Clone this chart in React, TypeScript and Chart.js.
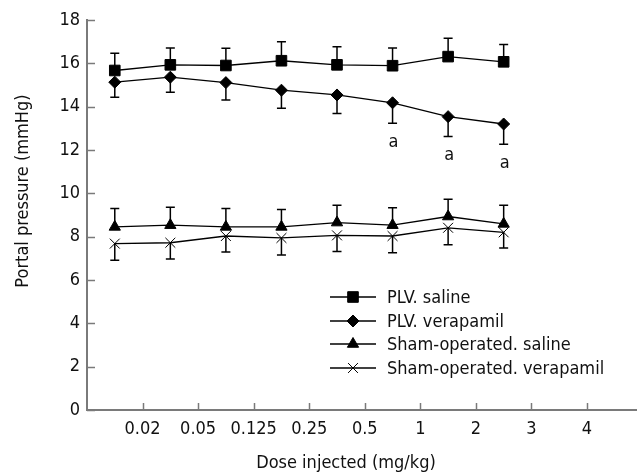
import React, { useEffect, useRef } from 'react';
import { Chart, registerables } from 'chart.js';
import { drawPoint } from 'chart.js/helpers';

Chart.register(...registerables);

// ---- data ----
const doseLabels = ['0.02', '0.05', '0.125', '0.25', '0.5', '1', '2', '3', '4'];
const seriesNames = ['PLV. saline', 'PLV. verapamil', 'Sham-operated. saline', 'Sham-operated. verapamil'];
const plvSaline = [15.67, 15.93, 15.9, 16.12, 15.93, 15.89, 16.31, 16.07];
const plvSalineErr = [0.8, 0.78, 0.8, 0.88, 0.83, 0.82, 0.85, 0.8];
const plvVerapamil = [15.13, 15.36, 15.11, 14.76, 14.54, 14.18, 13.54, 13.2];
const plvVerapamilErr = [0.7, 0.7, 0.8, 0.83, 0.86, 0.95, 0.92, 0.93];
const shamSaline = [8.45, 8.53, 8.45, 8.45, 8.65, 8.53, 8.93, 8.59];
const shamSalineErr = [0.85, 0.83, 0.85, 0.8, 0.8, 0.8, 0.8, 0.86];
const shamVerapamil = [7.68, 7.72, 8.03, 7.94, 8.06, 8.03, 8.41, 8.2];
const shamVerapamilErr = [0.77, 0.75, 0.74, 0.79, 0.74, 0.77, 0.78, 0.72];
const sigMarks = ['', '', '', '', '', 'a', 'a', 'a'];
const yTickValues = [0, 2, 4, 6, 8, 10, 12, 14, 16, 18];
const yTitle = 'Portal pressure (mmHg)';
const xTitle = 'Dose injected (mg/kg)';

const FONT = '"DejaVu Sans Condensed", "DejaVu Sans", sans-serif';
const FSIZE = 18;
const TEXT = '#111';
const AXIS = '#7a7a7a';

const seriesValues = [plvSaline, plvVerapamil, shamSaline, shamVerapamil];
const seriesErrs = [plvSalineErr, plvVerapamilErr, shamSalineErr, shamVerapamilErr];
const errDir = [1, -1, 1, -1];
const styles = [
  { pointStyle: 'rect', radius: 7.5 },
  { pointStyle: 'rectRot', radius: 6 },
  { pointStyle: 'triangle', radius: 6.5 },
  { pointStyle: 'crossRot', radius: 7 },
];

const decor = {
  id: 'decor',
  afterLayout(chart: any) {
    // let the x axis run to the right edge of the canvas, as in the original
    const x = chart.scales.x;
    const right = chart.width;
    chart.chartArea.right = right;
    chart.chartArea.width = right - chart.chartArea.left;
    x.right = right;
    x.width = right - x.left;
    x.configure();
  },
  beforeDatasetsDraw(chart: any) {
    const { ctx, scales } = chart;
    const xs = scales.x, ys = scales.y;
    ctx.save();
    ctx.strokeStyle = '#000';
    ctx.lineWidth = 1.5;
    seriesValues.forEach((vals, i) => {
      vals.forEach((v, j) => {
        const x = xs.getPixelForValue(j + 0.5);
        const y0 = ys.getPixelForValue(v);
        const y1 = ys.getPixelForValue(v + errDir[i] * seriesErrs[i][j]);
        ctx.beginPath();
        ctx.moveTo(x, y0);
        ctx.lineTo(x, y1);
        ctx.moveTo(x - 4.5, y1);
        ctx.lineTo(x + 4.5, y1);
        ctx.stroke();
      });
    });
    ctx.restore();
  },
  afterDraw(chart: any) {
    const { ctx, scales, chartArea } = chart;
    const xs = scales.x, ys = scales.y;
    ctx.save();
    // inward tick marks
    ctx.strokeStyle = AXIS;
    ctx.lineWidth = 1.5;
    yTickValues.forEach((t) => {
      const y = Math.round(ys.getPixelForValue(t)) + 0.5;
      ctx.beginPath();
      ctx.moveTo(chartArea.left, y);
      ctx.lineTo(chartArea.left + 8, y);
      ctx.stroke();
    });
    doseLabels.forEach((_, i) => {
      const x = Math.round(xs.getPixelForValue(i + 1)) + 0.5;
      ctx.beginPath();
      ctx.moveTo(x, chartArea.bottom);
      ctx.lineTo(x, chartArea.bottom - 7);
      ctx.stroke();
    });
    // significance marks
    ctx.fillStyle = TEXT;
    ctx.font = FSIZE + 'px ' + FONT;
    ctx.textAlign = 'center';
    ctx.textBaseline = 'middle';
    sigMarks.forEach((m, j) => {
      if (!m) return;
      const x = xs.getPixelForValue(j + 0.5);
      const y = ys.getPixelForValue(plvVerapamil[j] - plvVerapamilErr[j]) + 19;
      ctx.fillText(m, x + 1, y);
    });
    // legend
    const lx0 = 330, lx1 = 376, lm = 353, tx = 387;
    const rows = [297, 321, 344, 368];
    seriesNames.forEach((name, i) => {
      const y = rows[i];
      ctx.strokeStyle = '#000';
      ctx.lineWidth = 1.3;
      ctx.beginPath();
      ctx.moveTo(lx0, y);
      ctx.lineTo(lx1, y);
      ctx.stroke();
      ctx.fillStyle = '#000';
      ctx.lineWidth = 1;
      drawPoint(ctx, { pointStyle: styles[i].pointStyle, radius: styles[i].radius, rotation: 0, borderWidth: 1 } as any, lm, y);
      ctx.fillStyle = TEXT;
      ctx.textAlign = 'left';
      ctx.textBaseline = 'middle';
      ctx.fillText(name, tx, y + 1);
    });
    // axis titles
    ctx.fillStyle = TEXT;
    ctx.textAlign = 'center';
    ctx.textBaseline = 'alphabetic';
    ctx.fillText(xTitle, 346, 468);
    ctx.save();
    ctx.translate(28, 191);
    ctx.rotate(-Math.PI / 2);
    ctx.fillText(yTitle, 0, 0);
    ctx.restore();
    ctx.restore();
  },
};

export default function App() {
  const ref = useRef<HTMLCanvasElement | null>(null);
  useEffect(() => {
    if (!ref.current) return;
    const datasets = seriesValues.map((vals, i) => ({
      label: seriesNames[i],
      data: vals.map((v, j) => ({ x: j + 0.5, y: v })),
      borderColor: '#000',
      backgroundColor: '#000',
      borderWidth: 1.3,
      pointStyle: styles[i].pointStyle as any,
      pointRadius: styles[i].radius,
      pointBorderWidth: 1,
      pointBackgroundColor: '#000',
      pointBorderColor: '#000',
      tension: 0,
      fill: false,
    }));
    const chart = new Chart(ref.current, {
      type: 'line',
      data: { datasets },
      options: {
        animation: false,
        responsive: false,
        devicePixelRatio: 1,
        events: [],
        layout: { padding: { top: 20, right: 0, left: 0, bottom: 0 } },
        plugins: { legend: { display: false }, tooltip: { enabled: false } },
        scales: {
          x: {
            type: 'linear',
            min: 0,
            max: 9.9,
            afterBuildTicks: (s: any) => {
              s.ticks = doseLabels.map((_, i) => ({ value: i + 1 }));
            },
            afterFit: (s: any) => {
              s.height = 62;
              s.paddingLeft = 0;
              s.paddingRight = 0;
            },
            ticks: {
              autoSkip: false,
              maxRotation: 0,
              padding: 9,
              color: TEXT,
              font: { family: FONT, size: FSIZE },
              callback: (v: any) => doseLabels[Math.round(v) - 1] ?? '',
            },
            grid: { display: true, drawOnChartArea: false, drawTicks: false },
            border: { display: true, color: AXIS, width: 2 },
          },
          y: {
            type: 'linear',
            min: 0,
            max: 18,
            afterBuildTicks: (s: any) => {
              s.ticks = yTickValues.map((v) => ({ value: v }));
            },
            afterFit: (s: any) => {
              s.width = 87;
              s.paddingTop = 0;
              s.paddingBottom = 0;
            },
            ticks: {
              padding: 7,
              color: TEXT,
              font: { family: FONT, size: FSIZE },
            },
            grid: { display: true, drawOnChartArea: false, drawTicks: false },
            border: { display: true, color: AXIS, width: 2 },
          },
        },
      },
      plugins: [decor],
    });
    return () => chart.destroy();
  }, []);
  return (
    <div style={{ position: 'absolute', left: 0, top: 0, width: 637, height: 472, background: '#fff' }}>
      <canvas ref={ref} width={637} height={472} />
    </div>
  );
}
